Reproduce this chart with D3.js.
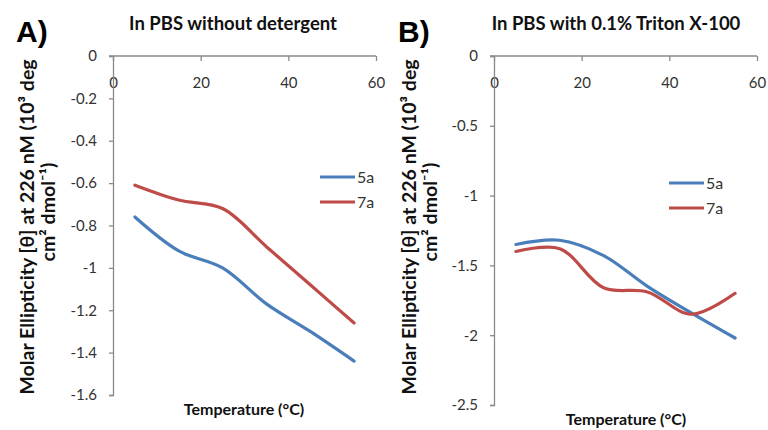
<!DOCTYPE html>
<html>
<head>
<meta charset="utf-8">
<script src="https://cdn.jsdelivr.net/npm/d3@7"></script>
<style>
  body { margin: 0; background: #fff; }
  text { font-family: Lato, "Open Sans", sans-serif; }
</style>
</head>
<body>
<div id="chart"></div>
<script>
// data
var temps = [5, 15, 25, 35, 45, 55];
var seriesNames = ['5a', '7a'];
var a5 = [-0.76, -0.92, -1.0, -1.17, -1.30, -1.44];
var a7 = [-0.61, -0.68, -0.72, -0.90, -1.08, -1.26];
var b5 = [-1.35, -1.32, -1.43, -1.65, -1.84, -2.02];
var b7 = [-1.40, -1.38, -1.66, -1.69, -1.85, -1.70];
var xTicks = [0, 20, 40, 60];
var yTicksA = [0, -0.2, -0.4, -0.6, -0.8, -1, -1.2, -1.4, -1.6];
var yTicksB = [0, -0.5, -1, -1.5, -2, -2.5];

var colors = ['#4a7ebb', '#be4b48'];

var svg = d3.select('#chart')
    .append('svg')
    .attr('width', 768)
    .attr('height', 430);

function drawPanel(p) {
    var g = svg.append('g');

    var x = d3.scaleLinear().domain([0, 60]).range([p.x0, p.x1]);
    var y = d3.scaleLinear().domain([0, p.yMin]).range([56, p.y1]);

    // x axis sits on the top (value 0), labels drawn below the line
    var xAxis = g.append('g')
        .attr('transform', 'translate(0,56)')
        .call(d3.axisBottom(x).tickValues(xTicks).tickSizeInner(5).tickSizeOuter(0)
            .tickFormat(function (d) { return String(d); }));
    xAxis.select('.domain').attr('d', 'M' + (p.x0 - 4) + ',0H' + p.x1);
    xAxis.selectAll('text').attr('y', 21).attr('dy', '0.71em');

    g.append('g')
        .attr('transform', 'translate(' + p.x0 + ',0)')
        .call(d3.axisLeft(y).tickValues(p.yTicks).tickSize(4).tickPadding(12)
            .tickFormat(function (d) { return String(d); }));

    g.selectAll('.domain, .tick line').attr('stroke', '#8a8a8a').attr('stroke-width', 1.3);
    g.selectAll('.tick text').attr('font-size', 15).attr('fill', '#333')
        .style('font-family', 'Lato, sans-serif');

    var line = d3.line()
        .x(function (d, i) { return x(temps[i]); })
        .y(function (d) { return y(d); })
        .curve(d3.curveCatmullRom.alpha(0.5));

    [p.s5, p.s7].forEach(function (s, i) {
        g.append('path')
            .attr('d', line(s))
            .attr('fill', 'none')
            .attr('stroke', colors[i])
            .attr('stroke-width', 3.2)
            .attr('stroke-linecap', 'round');
    });

    // legend
    seriesNames.forEach(function (name, i) {
        var ly = p.legY + i * 25;
        g.append('line')
            .attr('x1', p.legX).attr('x2', p.legX + 35)
            .attr('y1', ly).attr('y2', ly)
            .attr('stroke', colors[i]).attr('stroke-width', 3);
        g.append('text')
            .attr('x', p.legX + 37).attr('y', ly + 6)
            .attr('font-size', 16).attr('fill', '#333')
            .text(name);
    });

    // panel letter and title
    g.append('text')
        .attr('x', p.letterX).attr('y', 42)
        .style('font-family', '"Liberation Sans", Arial, sans-serif')
        .attr('font-size', 30).attr('font-weight', 'bold')
        .text(p.letter);
    g.append('text')
        .attr('x', p.titleX).attr('y', 30)
        .attr('text-anchor', 'middle')
        .attr('font-size', 18.5).attr('font-weight', 'bold')
        .attr('fill', '#111')
        .text(p.title);

    // axis titles
    g.append('text')
        .attr('x', p.xTitleX).attr('y', p.xTitleY)
        .attr('text-anchor', 'middle')
        .attr('font-size', 16).attr('font-weight', 'bold')
        .attr('fill', '#111')
        .text('Temperature (°C)');

    g.append('text')
        .attr('transform', 'translate(' + p.yTitleX + ',227) rotate(-90)')
        .attr('text-anchor', 'middle')
        .attr('font-size', 19.5).attr('font-weight', 'bold')
        .attr('fill', '#111')
        .text('Molar Ellipticity [θ] at  226 nM (10³ deg');
    g.append('text')
        .attr('transform', 'translate(' + (p.yTitleX + 21) + ',212) rotate(-90)')
        .attr('text-anchor', 'middle')
        .attr('font-size', 19.5).attr('font-weight', 'bold')
        .attr('fill', '#111')
        .text('cm² dmol⁻¹)');
}

drawPanel({
    x0: 113, x1: 376, yMin: -1.6, y1: 395, yTicks: yTicksA,
    s5: a5, s7: a7, legX: 320, legY: 177,
    letter: 'A)', letterX: 16, title: 'In PBS without detergent', titleX: 233,
    xTitleX: 244, xTitleY: 415, yTitleX: 34
});

drawPanel({
    x0: 494, x1: 757, yMin: -2.5, y1: 405, yTicks: yTicksB,
    s5: b5, s7: b7, legX: 669, legY: 183,
    letter: 'B)', letterX: 398, title: 'In PBS with 0.1% Triton X-100', titleX: 616,
    xTitleX: 626, xTitleY: 425, yTitleX: 416
});
</script>
</body>
</html>
